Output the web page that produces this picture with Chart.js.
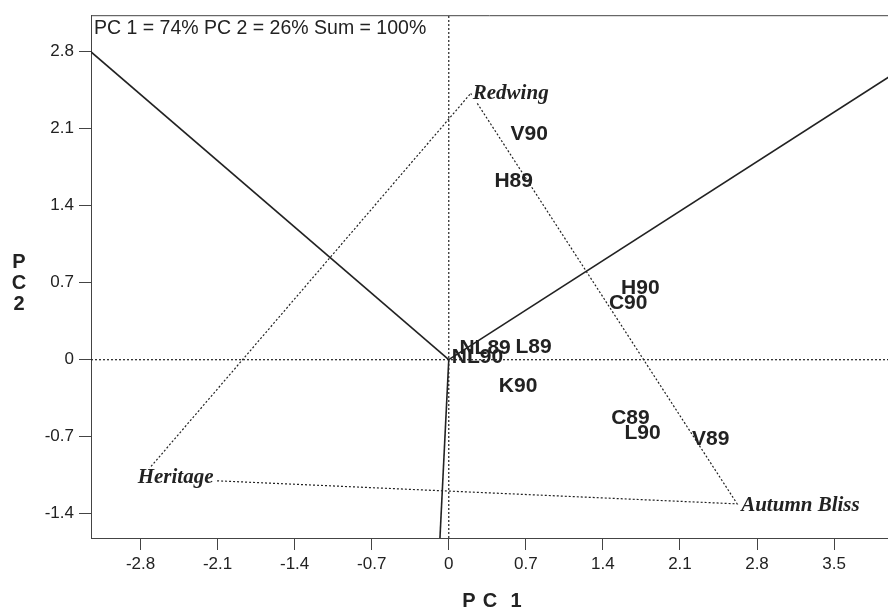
<!DOCTYPE html>
<html>
<head>
<meta charset="utf-8">
<script src="https://cdn.jsdelivr.net/npm/chart.js@4"></script>
<style>
  html, body { margin: 0; padding: 0; background: #fff; overflow: hidden; }
  #wrap { width: 888px; height: 612px; }
</style>
</head>
<body>
<div id="wrap"><canvas id="biplot"></canvas></div>
<script>
// tick labels
const xTicks = [-2.8, -2.1, -1.4, -0.7, 0, 0.7, 1.4, 2.1, 2.8, 3.5];
const yTicks = [-1.4, -0.7, 0, 0.7, 1.4, 2.1, 2.8];

// environments (site x year)
const siteNames = ['V90', 'H89', 'H90', 'C90', 'NL89', 'NL90', 'L89', 'K90', 'C89', 'L90', 'V89'];
const sitePC1 = [0.73, 0.59, 1.74, 1.63, 0.33, 0.26, 0.77, 0.63, 1.65, 1.76, 2.38];
const sitePC2 = [2.05, 1.62, 0.65, 0.51, 0.10, 0.02, 0.11, -0.24, -0.53, -0.67, -0.72];

// cultivars (triangle vertices)
const varNames = ['Redwing', 'Heritage', 'Autumn Bliss'];
const varPC1 = [0.20, -2.79, 2.62];
const varPC2 = [2.42, -1.07, -1.31];

// sector lines from origin
const rayPC1 = [-3.30, 4.00, -0.08];
const rayPC2 = [2.84, 2.57, -1.62];

const xMin = -3.25, xMax = 3.99;
const yMin = -1.62, yMax = 3.13;

const ink = '#222';

const rays = rayPC1.map((x, i) => ({
    data: [{ x: 0, y: 0 }, { x: x, y: rayPC2[i] }],
    borderColor: ink, borderWidth: 1.6, pointRadius: 0, showLine: true
}));

const triOrder = [0, 2, 1, 0];
const triangle = {
    data: triOrder.map(i => ({ x: varPC1[i], y: varPC2[i] })),
    borderColor: ink, borderWidth: 1.2, borderDash: [2, 2], pointRadius: 0, showLine: true
};

const refLines = [
    { data: [{ x: xMin, y: 0 }, { x: xMax, y: 0 }] },
    { data: [{ x: 0, y: yMin }, { x: 0, y: yMax }] }
].map(d => Object.assign(d, { borderColor: ink, borderWidth: 1.2, borderDash: [2, 2], pointRadius: 0, showLine: true }));

const sites = {
    data: siteNames.map((n, i) => ({ x: sitePC1[i], y: sitePC2[i] })),
    pointRadius: 0, showLine: false
};

// texte, titres et cadre
const labelPlugin = {
    id: 'labels',
    beforeDatasetsDraw(chart) {
        const { ctx, chartArea } = chart;
        ctx.save();
        ctx.strokeStyle = '#444';
        ctx.lineWidth = 1;
        ctx.beginPath();
        ctx.moveTo(chartArea.left, chartArea.top + 0.5);
        ctx.lineTo(chartArea.right, chartArea.top + 0.5);
        ctx.stroke();
        ctx.restore();
    },
    afterDatasetsDraw(chart) {
        const { ctx, chartArea } = chart;
        const xs = chart.scales.x, ys = chart.scales.y;
        ctx.save();
        ctx.fillStyle = ink;

        // sites
        ctx.font = 'bold 21px "Liberation Sans", Arial, sans-serif';
        ctx.textAlign = 'center';
        ctx.textBaseline = 'middle';
        siteNames.forEach((n, i) => {
            ctx.fillText(n, xs.getPixelForValue(sitePC1[i]), ys.getPixelForValue(sitePC2[i]));
        });

        // cultivars
        ctx.font = 'italic bold 21px "Liberation Serif", "Times New Roman", serif';
        ctx.textAlign = 'left';
        const offs = [[2, 0], [-4, 0], [4, 2]];
        varNames.forEach((n, i) => {
            const px = xs.getPixelForValue(varPC1[i]) + offs[i][0];
            const py = ys.getPixelForValue(varPC2[i]) + offs[i][1];
            const w = ctx.measureText(n).width;
            ctx.fillStyle = '#fff';
            ctx.fillRect(px - 1, py - 10, w + 3, 19);
            ctx.fillStyle = ink;
            ctx.fillText(n, px, py);
        });

        // annotation
        ctx.font = '19.5px "Liberation Sans", Arial, sans-serif';
        ctx.fillText('PC 1 = 74% PC 2 = 26% Sum = 100%', chartArea.left + 3, chartArea.top + 13);

        // axis titles
        ctx.font = 'bold 20px "Liberation Sans", Arial, sans-serif';
        ctx.textAlign = 'center';
        [['P', 469], ['C', 490], ['1', 516]].forEach(([c, x]) => ctx.fillText(c, x, 601));
        ['P', 'C', '2'].forEach((c, i) => ctx.fillText(c, 19, 262 + i * 21));
        ctx.restore();
    }
};

new Chart(document.getElementById('biplot'), {
    type: 'scatter',
    data: { datasets: [...refLines, triangle, ...rays, sites] },
    options: {
        responsive: true, maintainAspectRatio: false,
        animation: false,
        layout: { padding: { top: 14, right: 0, left: 0, bottom: 0 } },
        plugins: { legend: { display: false }, tooltip: { enabled: false } },
        scales: {
            x: {
                type: 'linear', min: xMin, max: xMax,
                afterBuildTicks: s => { s.ticks = xTicks.map(v => ({ value: v })); },
                afterFit: s => { s.height = 74; },
                grid: { drawOnChartArea: false, tickLength: 12, color: '#444' },
                border: { color: '#444' },
                ticks: {
                    autoSkip: false, maxRotation: 0, padding: 4, color: ink,
                    font: { family: '"Liberation Sans", Arial, sans-serif', size: 17 },
                    callback: v => String(v)
                }
            },
            y: {
                type: 'linear', min: yMin, max: yMax,
                afterBuildTicks: s => { s.ticks = yTicks.map(v => ({ value: v })); },
                afterFit: s => { s.width = 91; },
                grid: { drawOnChartArea: false, tickLength: 12, color: '#444' },
                border: { color: '#444' },
                ticks: {
                    autoSkip: false, padding: 5, color: ink,
                    font: { family: '"Liberation Sans", Arial, sans-serif', size: 17 },
                    callback: v => String(v)
                }
            }
        }
    },
    plugins: [labelPlugin]
});
</script>
</body>
</html>
